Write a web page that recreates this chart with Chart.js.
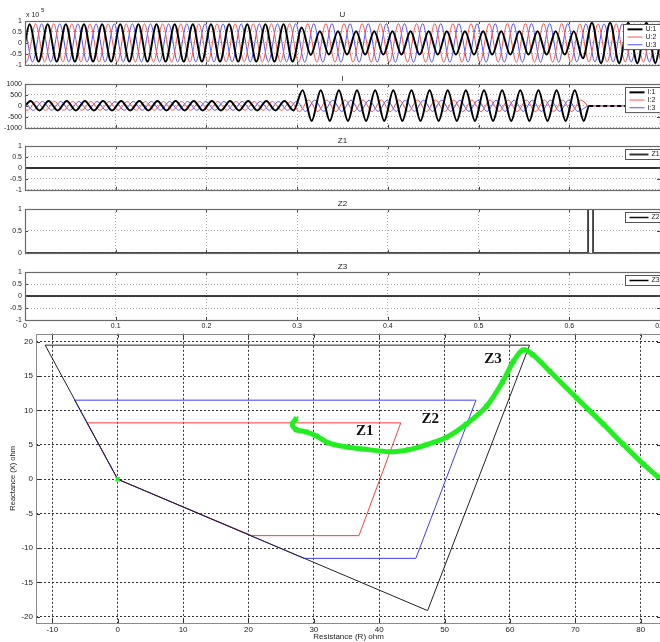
<!DOCTYPE html>
<html>
<head>
<meta charset="utf-8">
<script src="https://cdn.jsdelivr.net/npm/chart.js@4.4.0/dist/chart.umd.min.js"></script>
<style>
  html, body { margin: 0; padding: 0; background: #fff; overflow: hidden; }
  #page { position: relative; width: 660px; height: 642px; overflow: hidden; }
  #page canvas { position: absolute; left: 0; }
</style>
</head>
<body>
<div id="page">
  <canvas id="cU"  width="700" height="72"  style="top:0px"></canvas>
  <canvas id="cI"  width="700" height="63"  style="top:72px"></canvas>
  <canvas id="cZ1" width="700" height="63"  style="top:134px"></canvas>
  <canvas id="cZ2" width="700" height="63"  style="top:197px"></canvas>
  <canvas id="cZ3" width="700" height="71"  style="top:260px"></canvas>
  <canvas id="cXY" width="700" height="316" style="top:326px"></canvas>
</div>
<script>
// ─── Time axis ────────────────────────────────────────────────────
const timeTicks = [0, 0.1, 0.2, 0.3, 0.4, 0.5, 0.6, 0.7];
const timeTickLabels = ['0', '0.1', '0.2', '0.3', '0.4', '0.5', '0.6', '0.7'];
const halfCycle = 0.01; // 50 Hz

// time of first extremum of each phase (s)
const uFirst = [0.005, 0.00167, 0.00833];
const iFirst = [0.006, 0.00267, 0.00933];

// ─── Voltage U (x 10^5), value at each half-cycle extremum ───────
const uStart = [0, -0.75, 0.75];
const uEnd = [0, -0.75, 0.75];
const u1 = [
  0.85, -0.85, 0.85, -0.85, 0.85, -0.85, 0.85, -0.85, 0.85, -0.85,
  0.85, -0.85, 0.85, -0.85, 0.85, -0.85, 0.85, -0.85, 0.85, -0.85,
  0.85, -0.85, 0.85, -0.85, 0.85, -0.85, 0.85, -0.85, 0.85, -0.85,
  0.70, -0.55, 0.53, -0.53, 0.53, -0.53, 0.53, -0.53, 0.53, -0.53,
  0.53, -0.53, 0.53, -0.53, 0.53, -0.53, 0.53, -0.53, 0.53, -0.53,
  0.53, -0.53, 0.53, -0.53, 0.53, -0.53, 0.53, -0.53, 0.53, -0.53,
  0.53, -0.70, 0.92, -0.92, 0.92, -0.92, 0.92, -0.92, 0.92, -0.92,
];
const u2 = [
  -0.87, 0.87, -0.87, 0.87, -0.87, 0.87, -0.87, 0.87, -0.87, 0.87,
  -0.87, 0.87, -0.87, 0.87, -0.87, 0.87, -0.87, 0.87, -0.87, 0.87,
  -0.87, 0.87, -0.87, 0.87, -0.87, 0.87, -0.87, 0.87, -0.87, 0.87,
  -0.88, 0.88, -0.88, 0.88, -0.88, 0.88, -0.88, 0.88, -0.88, 0.88,
  -0.88, 0.88, -0.88, 0.88, -0.88, 0.88, -0.88, 0.88, -0.88, 0.88,
  -0.88, 0.88, -0.88, 0.88, -0.88, 0.88, -0.88, 0.88, -0.88, 0.88,
  -0.87, 0.87, -0.87, 0.87, -0.87, 0.87, -0.87, 0.87, -0.87, 0.87,
];
const u3 = [
  -0.87, 0.87, -0.87, 0.87, -0.87, 0.87, -0.87, 0.87, -0.87, 0.87,
  -0.87, 0.87, -0.87, 0.87, -0.87, 0.87, -0.87, 0.87, -0.87, 0.87,
  -0.87, 0.87, -0.87, 0.87, -0.87, 0.87, -0.87, 0.87, -0.87, 0.87,
  -0.88, 0.88, -0.88, 0.88, -0.88, 0.88, -0.88, 0.88, -0.88, 0.88,
  -0.88, 0.88, -0.88, 0.88, -0.88, 0.88, -0.88, 0.88, -0.88, 0.88,
  -0.88, 0.88, -0.88, 0.88, -0.88, 0.88, -0.88, 0.88, -0.88, 0.88,
  -0.87, 0.87, -0.87, 0.87, -0.87, 0.87, -0.87, 0.87, -0.87, 0.87,
];

// ─── Current I (A), value at each half-cycle extremum ────────────
const iStart = [0, -180, 195];
const iTrip = 0.622; // breaker open, currents fall to zero
const i1 = [
  220, -210, 220, -210, 220, -210, 220, -210, 220, -210,
  220, -210, 220, -210, 220, -210, 220, -210, 220, -210,
  220, -210, 220, -210, 220, -210, 220, -210, 220, -210,
  720, -680, 720, -680, 720, -680, 720, -680, 720, -680,
  720, -680, 720, -680, 720, -680, 720, -680, 720, -680,
  720, -680, 720, -680, 720, -680, 720, -680, 720, -680,
  720, -680,
];
const i2 = [
  -200, 200, -200, 200, -200, 200, -200, 200, -200, 200,
  -200, 200, -200, 200, -200, 200, -200, 200, -200, 200,
  -200, 200, -200, 200, -200, 200, -200, 200, -200, 200,
  -260, 270, -260, 270, -260, 270, -260, 270, -260, 270,
  -260, 270, -260, 270, -260, 270, -260, 270, -260, 270,
  -260, 270, -260, 270, -260, 270, -260, 270, -260, 270,
  -260, 270,
];
const i3 = [
  -200, 200, -200, 200, -200, 200, -200, 200, -200, 200,
  -200, 200, -200, 200, -200, 200, -200, 200, -200, 200,
  -200, 200, -200, 200, -200, 200, -200, 200, -200, 200,
  -250, 260, -250, 260, -250, 260, -250, 260, -250, 260,
  -250, 260, -250, 260, -250, 260, -250, 260, -250, 260,
  -250, 260, -250, 260, -250, 260, -250, 260, -250, 260,
  -250,
];

// ─── Zone trip signals ───────────────────────────────────────────
const z1Time = [0, 0.7];
const z1Vals = [0, 0];
const z2Time = [0, 0.6207, 0.6207, 0.6262, 0.6262, 0.7];
const z2Vals = [0, 0, 1, 1, 0, 0];
const z3Time = [0, 0.7];
const z3Vals = [0, 0];

// ─── R-X diagram ─────────────────────────────────────────────────
const rTicks = [-10, 0, 10, 20, 30, 40, 50, 60, 70, 80];
const xTicks = [-20, -15, -10, -5, 0, 5, 10, 15, 20];

const zone1R = [0, -4.7, 43.3, 36.9, 20.5, 0];
const zone1X = [0, 8.2, 8.2, -8.2, -8.2, 0];
const zone2R = [0, -6.6, 54.8, 45.6, 28.5, 0];
const zone2X = [0, 11.5, 11.5, -11.5, -11.5, 0];
const zone3R = [0, -11.1, 63.0, 47.4, 0];
const zone3X = [0, 19.5, 19.5, -19.1, 0];

const trajR = [27.3, 26.7, 27.3, 28.8, 30.4, 32.2, 35.0, 37.5, 41.6, 44.5, 47.2, 50.3,
  53.3, 56.4, 58.9, 60.5, 62.0, 63.5, 66.1, 70.2, 74.3, 77.3, 80.4, 82.7];
const trajX = [8.8, 8.0, 7.2, 6.9, 6.3, 5.3, 4.7, 4.4, 4.0, 4.3, 5.0, 6.1,
  8.0, 10.6, 14.2, 17.1, 18.8, 18.1, 15.7, 11.8, 8.0, 5.1, 2.2, 0.3];

const zoneLabels = ['Z1', 'Z2', 'Z3'];
const zoneLabelR = [37.8, 47.8, 57.4];
const zoneLabelX = [7.0, 8.7, 17.4];

// ─── Helpers ─────────────────────────────────────────────────────
const FONT = '"Liberation Sans", Arial, sans-serif';
const RED = 'rgb(255,80,80)';
const BLUE = 'rgb(80,80,255)';
const GREEN = '#22ee22';

const zip = (xs, ys) => xs.map((x, k) => ({ x, y: ys[k] }));

function wave(start, first, extrema, tailTime, tailVal) {
  const pts = [{ x: 0, y: start }];
  extrema.forEach((v, k) => pts.push({ x: first + halfCycle * k, y: v }));
  pts.push({ x: tailTime, y: tailVal });
  if (tailTime < 0.7) pts.push({ x: 0.7, y: tailVal });
  return pts;
}

// MATLAB-like box with inward tick marks
const framePlugin = {
  id: 'matFrame',
  afterDatasetsDraw(chart, args, o) {
    const { ctx, chartArea: a, scales: { x, y } } = chart;
    const L = o.tickLen || 3;
    ctx.save();
    ctx.strokeStyle = o.tickColor || '#444';
    ctx.lineWidth = 1;
    ctx.beginPath();
    x.ticks.forEach((t) => {
      const px = Math.round(x.getPixelForValue(t.value)) + 0.5;
      ctx.moveTo(px, a.top); ctx.lineTo(px, a.top + L);
      ctx.moveTo(px, a.bottom); ctx.lineTo(px, a.bottom - L);
    });
    y.ticks.forEach((t) => {
      const py = Math.round(y.getPixelForValue(t.value)) + 0.5;
      ctx.moveTo(a.left, py); ctx.lineTo(a.left + L, py);
      ctx.moveTo(a.right, py); ctx.lineTo(a.right - L, py);
    });
    ctx.stroke();
    ctx.strokeStyle = o.color || '#666';
    ctx.lineWidth = o.width || 1;
    ctx.strokeRect(Math.round(a.left) + 0.5, Math.round(a.top) + 0.5,
      Math.round(a.right - a.left), Math.round(a.bottom - a.top));
    ctx.restore();
  },
};

// subplot titles and the x10^5 exponent
const titlePlugin = {
  id: 'matTitle',
  afterDraw(chart, args, o) {
    if (!o.text) return;
    const { ctx, chartArea: a } = chart;
    ctx.save();
    ctx.fillStyle = '#222';
    ctx.font = '8px ' + FONT;
    ctx.textAlign = 'center';
    ctx.fillText(o.text, (a.left + 660) / 2, a.top - (o.gap || 3));
    if (o.exp) {
      ctx.textAlign = 'left';
      ctx.font = '7px ' + FONT;
      ctx.fillText('x 10', a.left + 1, a.top - 4);
      ctx.font = '6px ' + FONT;
      ctx.fillText(o.exp, a.left + 16, a.top - 9);
    }
    ctx.restore();
  },
};

// boxed legend at top right of a subplot
const legendPlugin = {
  id: 'matLegend',
  afterDraw(chart, args, o) {
    if (!o.show) return;
    const { ctx, chartArea: a } = chart;
    const ds = chart.data.datasets;
    const rowH = o.rowH || 8;
    const x0 = Math.round(a.right - o.boxW) + 0.5;
    const y0 = Math.round(a.top + o.dy) + 0.5;
    const h = ds.length * rowH + 2;
    ctx.save();
    ctx.fillStyle = '#fff';
    ctx.fillRect(x0, y0, 60, h);
    ctx.strokeStyle = '#555';
    ctx.lineWidth = 1;
    ctx.strokeRect(x0, y0, 60, h);
    ctx.font = '7px ' + FONT;
    ctx.textBaseline = 'middle';
    ds.forEach((d, k) => {
      const yy = y0 + 1 + rowH * k + rowH / 2;
      ctx.strokeStyle = d.borderColor;
      ctx.lineWidth = d.borderWidth;
      ctx.beginPath();
      ctx.moveTo(x0 + 4, yy);
      ctx.lineTo(x0 + 4 + o.lineLen, yy);
      ctx.stroke();
      ctx.fillStyle = '#222';
      ctx.fillText(d.label, x0 + 7 + o.lineLen, yy);
    });
    ctx.restore();
  },
};

function timeChart(id, datasets, cfg) {
  return new Chart(document.getElementById(id), {
    type: 'line',
    data: { datasets },
    options: {
      responsive: false,
      animation: false,
      events: [],
      layout: { padding: { top: cfg.padTop, right: 40, bottom: cfg.xLabels ? 0 : 4, left: 0 } },
      elements: { point: { radius: 0 }, line: { tension: 0 } },
      plugins: {
        legend: { display: false },
        tooltip: { enabled: false },
        matFrame: { color: '#6a6a6a', width: 1.2, tickLen: 3 },
        matTitle: { text: cfg.title, exp: cfg.exp, gap: cfg.gap },
        matLegend: { show: true, dy: 3, rowH: cfg.rowH, boxW: cfg.boxW, lineLen: cfg.lineLen },
      },
      scales: {
        x: {
          type: 'linear', min: 0, max: 0.7,
          afterBuildTicks: (s) => { s.ticks = timeTicks.map((v) => ({ value: v })); },
          afterFit: (s) => { s.height = cfg.xLabels ? 11 : 0; },
          grid: { color: '#aaa', lineWidth: 1, drawTicks: false },
          border: { display: false, dash: [1, 2] },
          ticks: {
            display: !!cfg.xLabels, autoSkip: false, maxRotation: 0, padding: 2,
            color: '#222', font: { size: 7, family: FONT },
            callback: (v, k) => timeTickLabels[k],
          },
        },
        y: {
          type: 'linear', min: cfg.yTicks[0], max: cfg.yTicks[cfg.yTicks.length - 1],
          afterBuildTicks: (s) => { s.ticks = cfg.yTicks.map((v) => ({ value: v })); },
          afterFit: (s) => { s.width = 25; },
          grid: { color: '#aaa', lineWidth: 1, drawTicks: false },
          border: { display: false, dash: [1, 2] },
          ticks: {
            padding: 3, color: '#222', font: { size: 7, family: FONT },
            callback: (v, k) => cfg.yLabels[k],
          },
        },
      },
    },
    plugins: [framePlugin, titlePlugin, legendPlugin],
  });
}

const unitTicks = [-1, -0.5, 0, 0.5, 1];
const unitLabels = ['-1', '-0.5', '0', '0.5', '1'];

// ─── U ───────────────────────────────────────────────────────────
timeChart('cU', [
  { label: 'U:1', data: wave(uStart[0], uFirst[0], u1, 0.7, uEnd[0]), borderColor: '#000', borderWidth: 2, cubicInterpolationMode: 'monotone' },
  { label: 'U:2', data: wave(uStart[1], uFirst[1], u2, 0.7, uEnd[1]), borderColor: RED, borderWidth: 1, cubicInterpolationMode: 'monotone' },
  { label: 'U:3', data: wave(uStart[2], uFirst[2], u3, 0.7, uEnd[2]), borderColor: BLUE, borderWidth: 1, cubicInterpolationMode: 'monotone' },
], { padTop: 21, title: 'U', exp: '5', gap: 4, yTicks: unitTicks, yLabels: unitLabels, rowH: 7.7, boxW: 37, lineLen: 15 });

// ─── I ───────────────────────────────────────────────────────────
const tripDash = { borderDash: (c) => (c.p0.parsed.x >= iTrip - 0.0001 ? [4, 3] : undefined) };
timeChart('cI', [
  { label: 'I:1', data: wave(iStart[0], iFirst[0], i1, iTrip, 0), borderColor: '#000', borderWidth: 2, cubicInterpolationMode: 'monotone', segment: tripDash },
  { label: 'I:2', data: wave(iStart[1], iFirst[1], i2, iTrip, 0), borderColor: RED, borderWidth: 1, cubicInterpolationMode: 'monotone' },
  { label: 'I:3', data: wave(iStart[2], iFirst[2], i3, iTrip, 0), borderColor: BLUE, borderWidth: 1, cubicInterpolationMode: 'monotone' },
], { padTop: 12, title: 'I', yTicks: [-1000, -500, 0, 500, 1000], yLabels: ['-1000', '-500', '0', '500', '1000'], rowH: 7.7, boxW: 35, lineLen: 15 });

// ─── Z1, Z2, Z3 ──────────────────────────────────────────────────
timeChart('cZ1', [
  { label: 'Z1', data: zip(z1Time, z1Vals), borderColor: '#333', borderWidth: 2 },
], { padTop: 12, title: 'Z1', yTicks: unitTicks, yLabels: unitLabels, rowH: 8, boxW: 35, lineLen: 19 });

timeChart('cZ2', [
  { label: 'Z2', data: zip(z2Time, z2Vals), borderColor: '#111', borderWidth: 1.5 },
], { padTop: 12, title: 'Z2', yTicks: [0, 0.5, 1], yLabels: ['0', '0.5', '1'], rowH: 8, boxW: 35, lineLen: 19 });

timeChart('cZ3', [
  { label: 'Z3', data: zip(z3Time, z3Vals), borderColor: '#000', borderWidth: 1.5 },
], { padTop: 12, title: 'Z3', xLabels: true, yTicks: unitTicks, yLabels: unitLabels, rowH: 8, boxW: 35, lineLen: 19 });

// ─── R-X diagram ─────────────────────────────────────────────────
const zoneTextPlugin = {
  id: 'zoneText',
  afterDatasetsDraw(chart) {
    const { ctx, scales: { x, y } } = chart;
    ctx.save();
    ctx.fillStyle = '#111';
    ctx.font = 'bold 15px "Liberation Serif", "Times New Roman", serif';
    ctx.textAlign = 'center';
    ctx.textBaseline = 'middle';
    zoneLabels.forEach((t, k) => {
      ctx.fillText(t, x.getPixelForValue(zoneLabelR[k]), y.getPixelForValue(zoneLabelX[k]));
    });
    ctx.restore();
  },
};

new Chart(document.getElementById('cXY'), {
  type: 'scatter',
  data: {
    datasets: [
      {
        label: 'Impedance', data: zip(trajR, trajX), showLine: true, tension: 0.3,
        borderColor: GREEN, borderWidth: 5,
        pointStyle: 'crossRot', pointRadius: 3, pointBorderWidth: 2,
        pointBorderColor: GREEN, pointBackgroundColor: GREEN,
      },
      {
        label: 'Origin', data: [{ x: 0, y: 0 }],
        pointStyle: 'crossRot', pointRadius: 3, pointBorderWidth: 1.5, pointBorderColor: GREEN,
      },
      { label: 'Zone 3', data: zip(zone3R, zone3X), showLine: true, borderColor: '#222', borderWidth: 1, pointRadius: 0 },
      { label: 'Zone 2', data: zip(zone2R, zone2X), showLine: true, borderColor: 'rgb(60,60,255)', borderWidth: 1, pointRadius: 0 },
      { label: 'Zone 1', data: zip(zone1R, zone1X), showLine: true, borderColor: 'rgb(255,60,60)', borderWidth: 1, pointRadius: 0 },
    ],
  },
  options: {
    responsive: false,
    animation: false,
    events: [],
    layout: { padding: { top: 6, right: 39, bottom: 0, left: 0 } },
    plugins: {
      legend: { display: false },
      tooltip: { enabled: false },
      matFrame: { color: '#8a8a8a', width: 1, tickLen: 4, tickColor: '#333' },
    },
    scales: {
      x: {
        type: 'linear', min: -12.5, max: 83.1,
        afterBuildTicks: (s) => { s.ticks = rTicks.map((v) => ({ value: v })); },
        afterFit: (s) => { s.height = 19; },
        grid: { color: '#333', lineWidth: 1, drawTicks: false },
        border: { display: false, dash: [2, 2] },
        ticks: { autoSkip: false, maxRotation: 0, padding: 2, color: '#222', font: { size: 8, family: FONT } },
        title: { display: true, text: 'Resistance (R) ohm', color: '#222', font: { size: 8, family: FONT }, padding: { top: 0, bottom: 0 } },
      },
      y: {
        type: 'linear', min: -20.9, max: 21.15,
        afterBuildTicks: (s) => { s.ticks = xTicks.map((v) => ({ value: v })); },
        afterFit: (s) => { s.width = 36; },
        grid: { color: '#333', lineWidth: 1, drawTicks: false },
        border: { display: false, dash: [2, 2] },
        ticks: { padding: 3, color: '#222', font: { size: 8, family: FONT } },
        title: { display: true, text: 'Reactance (X) ohm', color: '#222', font: { size: 7.5, family: FONT }, padding: { top: 8, bottom: 0 } },
      },
    },
  },
  plugins: [framePlugin, zoneTextPlugin],
});
</script>
</body>
</html>
